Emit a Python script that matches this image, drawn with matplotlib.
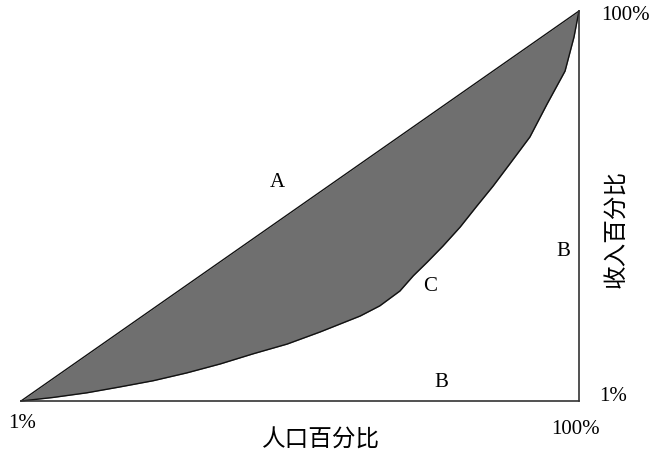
"""Lorenz curve sketch: equality line, actual curve, shaded gap."""
import matplotlib
matplotlib.use("Agg")
import matplotlib.pyplot as plt

# cumulative population share (%) vs cumulative income share (%) along the curve
pop_pct = [0, 5.7, 11.8, 17.7, 23.7, 29.7, 35.7, 41.6, 47.7, 53.6, 60.8, 64.3,
           67.9, 70.3, 72.8, 75.6, 78.7, 81.7, 84.6, 87.6, 91.2, 94.3, 97.5,
           99.1, 100]
inc_pct = [0, 0.9, 2.1, 3.6, 5.2, 7.2, 9.5, 12.1, 14.6, 17.7, 21.8, 24.4,
           28.2, 32.1, 35.6, 39.7, 44.6, 50.0, 55.1, 60.8, 67.7, 76.2, 84.6,
           93.3, 100]

# equality line endpoints
eq_x = [0, 100]
eq_y = [0, 100]

SERIF = "Liberation Serif"
CJK = ["Noto Sans CJK SC", "DejaVu Sans"]

fig = plt.figure(figsize=(6.52, 4.56), dpi=100)
W, H = 652, 456
ax = fig.add_axes([21 / W, (H - 402) / H, 558 / W, 390 / H])
ax.set_xlim(0, 100)
ax.set_ylim(0, 100)
ax.axis("off")

# shaded area between equality line and curve
ax.fill_between(pop_pct, inc_pct, pop_pct, color="#6f6f6f", lw=0)
ax.plot(pop_pct, inc_pct, color="#111111", lw=1.0, clip_on=False,
        solid_joinstyle="round")
ax.plot(eq_x, eq_y, color="#111111", lw=1.0, clip_on=False)
# bottom and right edges of the box
ax.plot([0, 100], [0, 0], color="#333333", lw=1.2, clip_on=False)
ax.plot([100, 100], [0, 100], color="#333333", lw=1.2, clip_on=False)

kw = dict(family=SERIF, fontsize=15, ha="center", va="center")
ax.text(45.9, 56.2, "A", **kw)
ax.text(97.1, 38.5, "B", **kw)
ax.text(73.3, 29.7, "C", **kw)
ax.text(75.3, 4.9, "B", **kw)

fig.text(22 / W, 1 - 424 / H, "1%", **kw)
fig.text(575 / W, 1 - 430 / H, "100%", **kw)
fig.text(625 / W, 1 - 16 / H, "100%", **kw)
fig.text(613 / W, 1 - 397 / H, "1%", **kw)

fig.text(321 / W, 1 - 440 / H, "人口百分比", family=CJK, fontsize=17,
         ha="center", va="center")
fig.text(617 / W, 1 - 229 / H, "收入百分比", family=CJK, fontsize=17,
         ha="center", va="center", rotation=90)

fig.savefig("out.png", dpi=100)
